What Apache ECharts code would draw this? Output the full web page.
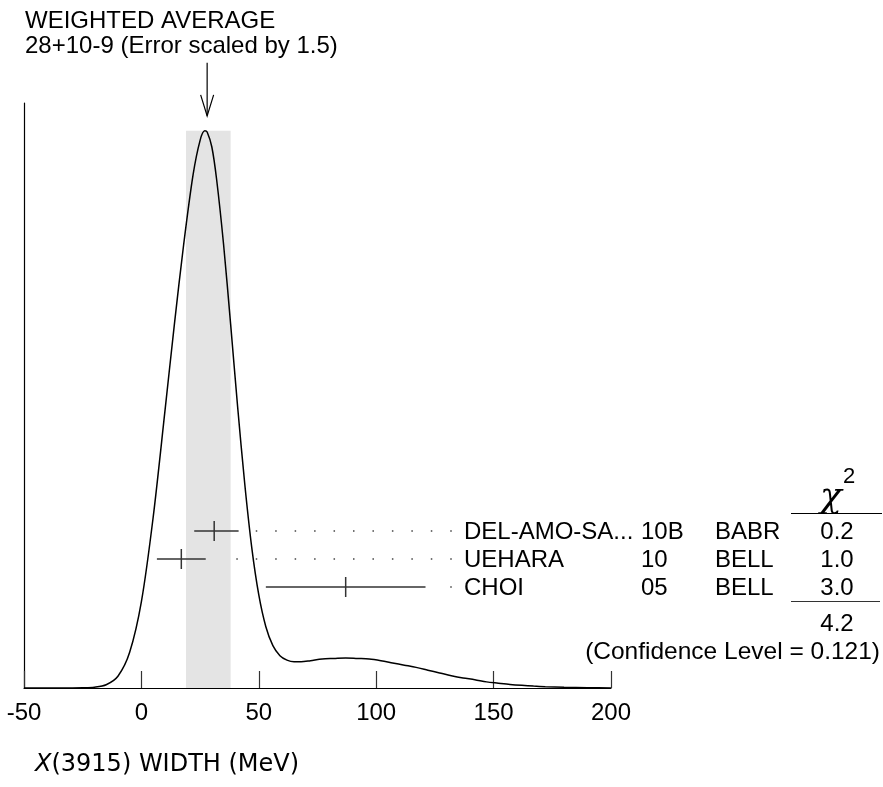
<!DOCTYPE html>
<html>
<head>
<meta charset="utf-8">
<script src="https://cdn.jsdelivr.net/npm/echarts@6/dist/echarts.min.js"></script>
<style>html,body{margin:0;padding:0;background:#fff;}#c{width:883px;height:787px;}</style>
</head>
<body>
<div id="c"></div>
<script>
// ---- data ----
const curveX = [-50,-40,-30,-25,-20,-15,-10,-5,0,5,10,14,18,22,25,27,28,30,32,35,38,41,44,47,50,53,56,59,62,65,68,72,77,82,87,92,97,102,107,112,117,122,127,132,137,142,147,152,157,162,167,172,180,190,200];
const curveY = [0.00002,0.00005,0.00017,0.00042,0.0015,0.0058,0.021,0.064,0.155,0.306,0.496,0.651,0.796,0.921,0.983,1.0,0.998,0.971,0.914,0.796,0.653,0.504,0.367,0.252,0.167,0.110,0.076,0.058,0.050,0.047,0.047,0.049,0.052,0.053,0.054,0.053,0.052,0.049,0.045,0.041,0.037,0.032,0.027,0.022,0.018,0.015,0.011,0.0087,0.0065,0.0048,0.0034,0.0024,0.0013,0.0006,0.0002];
const names = ['DEL-AMO-SA...','UEHARA','CHOI'];
const years = ['10B','10','05'];
const exps = ['BABR','BELL','BELL'];
const values = [31,17,87];
const errLow = [8.5,10.4,34];
const errHigh = [10.4,10.4,34];
const chi2 = ['0.2','1.0','3.0'];
const average = 28, avgErrLow = 9, avgErrHigh = 10, avgPeak = 1.0;
const chi2Total = '4.2';
const confLevel = '0.121';
const xTicks = [-50,0,50,100,150,200];

const FONT = "'Liberation Sans', Arial, Helvetica, sans-serif";
const chart = echarts.init(document.getElementById('c'), null, {renderer:'canvas'});

const rowData = values.map((v,i)=>[v, v-errLow[i], v+errHigh[i], i]);

const option = {
  animation:false,
  backgroundColor:'#fff',
  title:{
    text:'WEIGHTED AVERAGE',
    subtext:'28+10-9 (Error scaled by 1.5)',
    left:25, top:9, padding:0, itemGap:1,
    textStyle:{fontFamily:FONT, fontSize:24, fontWeight:'normal', color:'#000', lineHeight:24},
    subtextStyle:{fontFamily:FONT, fontSize:24, color:'#000', lineHeight:24}
  },
  grid:{left:24, right:272, top:103, bottom:99, containLabel:false},
  xAxis:{
    type:'value', min:xTicks[0], max:xTicks[xTicks.length-1], interval:50,
    axisLine:{show:true, onZero:false, lineStyle:{color:'#000', width:1.2}},
    axisTick:{show:true, inside:true, length:17, lineStyle:{color:'#333', width:1.2}},
    axisLabel:{fontFamily:FONT, fontSize:24, color:'#000', margin:13,
      formatter:(v)=> xTicks.indexOf(v)>=0 ? String(v) : ''},
    splitLine:{show:false}
  },
  yAxis:[
    {type:'value', min:0, max:1.05, axisLine:{show:true, onZero:false, lineStyle:{color:'#000', width:1.2}},
     axisTick:{show:false}, axisLabel:{show:false}, splitLine:{show:false}},
    {type:'value', inverse:true, min:-15.2857, max:5.6071, show:false, splitLine:{show:false}}
  ],
  series:[
    {
      type:'line', xAxisIndex:0, yAxisIndex:0,
      data: curveX.map((x,i)=>[x, curveY[i]]),
      smooth:0.3, showSymbol:false, symbol:'none',
      lineStyle:{color:'#000', width:1.5},
      z:3,
      markArea:{
        silent:true,
        itemStyle:{color:'#e4e4e4'},
        data:[[{coord:[average-avgErrLow, 0]}, {coord:[average+avgErrHigh, avgPeak]}]]
      }
    },
    {
      type:'custom', xAxisIndex:0, yAxisIndex:0, clip:false, z:4,
      data:[[average, avgPeak]],
      renderItem:(params, api)=>{
        const p = api.coord([api.value(0), api.value(1)]);
        const x = p[0], y = p[1];
        return {type:'group', children:[
          {type:'line', shape:{x1:x, y1:y-68, x2:x, y2:y-15}, style:{stroke:'#000', lineWidth:1.2}},
          {type:'polyline', shape:{points:[[x-6.5,y-36],[x,y-15],[x+6.5,y-36]]}, style:{stroke:'#000', lineWidth:1.2, fill:null}}
        ]};
      }
    },
    {
      type:'custom', xAxisIndex:0, yAxisIndex:1, clip:false, z:5,
      data: rowData,
      renderItem:(params, api)=>{
        const i = params.dataIndex;
        const r = api.value(3);
        const pC = api.coord([api.value(0), r]);
        const pL = api.coord([api.value(1), r]);
        const pH = api.coord([api.value(2), r]);
        const y = pC[1];
        const ch = [
          {type:'line', shape:{x1:pL[0], y1:y, x2:pH[0], y2:y}, style:{stroke:'#333', lineWidth:1.5}},
          {type:'line', shape:{x1:pC[0], y1:y-10, x2:pC[0], y2:y+10}, style:{stroke:'#333', lineWidth:1.5}}
        ];
        const dotEnd = 451, dotStart = pH[0] + 14;
        if (dotStart < dotEnd) {
          ch.push({type:'line', shape:{x1:dotEnd+0.75, y1:y, x2:dotStart, y2:y},
            style:{stroke:'#444', lineWidth:1.5, lineDash:[1.5,17.95]}});
        }
        const ts = {fontFamily:FONT, fontSize:24, fill:'#000', verticalAlign:'middle'};
        ch.push({type:'text', style:Object.assign({}, ts, {text:names[i], x:464, y:y+1, align:'left'})});
        ch.push({type:'text', style:Object.assign({}, ts, {text:years[i], x:641, y:y+1, align:'left'})});
        ch.push({type:'text', style:Object.assign({}, ts, {text:exps[i], x:715, y:y+1, align:'left'})});
        ch.push({type:'text', style:Object.assign({}, ts, {text:chi2[i], x:837, y:y+1, align:'center'})});
        return {type:'group', children:ch};
      }
    }
  ],
  graphic:[
    {type:'text', x:831, y:498, style:{text:'\u03C7', fontFamily:"'DejaVu Serif', serif", fontStyle:'italic', fontSize:36, fill:'#000', align:'center', verticalAlign:'middle'}},
    {type:'text', x:849, y:477, style:{text:'2', fontFamily:FONT, fontSize:22, fill:'#000', align:'center', verticalAlign:'middle'}},
    {type:'line', shape:{x1:791, y1:513.5, x2:882, y2:513.5}, style:{stroke:'#000', lineWidth:1.2}},
    {type:'line', shape:{x1:791, y1:601.5, x2:880, y2:601.5}, style:{stroke:'#333', lineWidth:1.2}},
    {type:'text', x:837, y:624, style:{text:chi2Total, fontFamily:FONT, fontSize:24, fill:'#000', align:'center', verticalAlign:'middle'}},
    {type:'text', x:880, y:652, style:{text:'(Confidence Level = ' + confLevel + ')', fontFamily:FONT, fontSize:24.5, fill:'#000', align:'right', verticalAlign:'middle'}},
    {type:'text', x:35, y:765, style:{
      text:'{i|X}(3915) WIDTH (MeV)',
      fontFamily:"'DejaVu Sans', sans-serif", fontSize:24, fill:'#000', verticalAlign:'middle',
      rich:{i:{fontStyle:'italic', fontFamily:"'DejaVu Sans', sans-serif", fontSize:24, fill:'#000'}}
    }}
  ]
};
chart.setOption(option);
</script>
</body>
</html>
